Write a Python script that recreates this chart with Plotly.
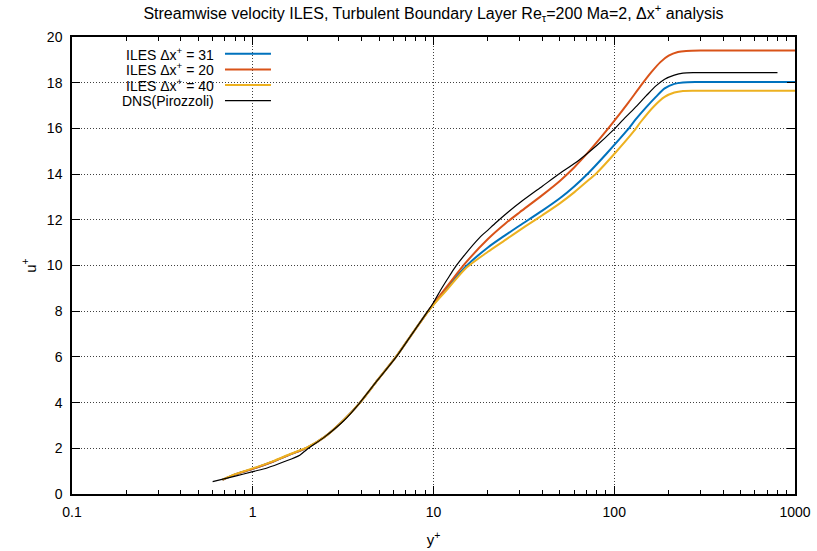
import plotly.graph_objects as go

# ---------------- data ----------------
series_names = ["ILES Δx<sup>+</sup> = 31", "ILES Δx<sup>+</sup> = 20",
                "ILES Δx<sup>+</sup> = 40", "DNS(Pirozzoli)"]
series_colors = ["#0072BD", "#D95319", "#EDB120", "#000000"]

blue_x = [0.68, 0.8, 1.0, 1.3, 1.6, 2.0, 2.5, 3.2, 3.9, 4.9, 6.2, 7.6, 9.3, 10, 12, 15, 20, 25, 30,
          40, 50, 60, 72, 90, 118, 131, 150, 170, 190, 215, 240, 280, 400, 1000]
blue_u = [0.62, 0.86, 1.1, 1.42, 1.72, 2.03, 2.5, 3.25, 3.98, 4.98, 6.0, 7.0, 7.98, 8.3, 9.07,
          9.94, 10.79, 11.33, 11.75, 12.4, 12.94, 13.46, 14.05, 14.87, 15.92, 16.38, 16.92,
          17.38, 17.75, 17.95, 18.01, 18.03, 18.03, 18.03]

orange_x = [0.68, 0.8, 1.0, 1.3, 1.6, 2.0, 2.5, 3.2, 3.9, 4.9, 6.2, 7.6, 9.3, 10, 12, 15, 20, 25, 30,
            40, 50, 60, 70, 85, 100, 120, 140, 160, 180, 200, 225, 250, 300, 400, 1000]
orange_u = [0.62, 0.86, 1.1, 1.42, 1.72, 2.03, 2.5, 3.25, 3.98, 4.98, 6.0, 7.0, 7.98, 8.32, 9.13,
            10.1, 11.16, 11.84, 12.33, 13.08, 13.7, 14.29, 14.86, 15.64, 16.33, 17.14, 17.86,
            18.45, 18.9, 19.18, 19.34, 19.39, 19.41, 19.41, 19.41]

yellow_x = [0.68, 0.8, 1.0, 1.3, 1.6, 2.0, 2.5, 3.2, 3.9, 4.9, 6.2, 7.6, 9.3, 10, 12, 15, 20, 25, 30,
            35, 40, 50, 60, 70, 80, 100, 129, 140, 165, 190, 215, 240, 280, 400, 1000]
yellow_u = [0.63, 0.87, 1.12, 1.44, 1.74, 2.04, 2.5, 3.25, 3.98, 4.98, 6.0, 7.0, 7.97, 8.28, 8.98,
            9.86, 10.6, 11.12, 11.55, 11.9, 12.2, 12.72, 13.2, 13.65, 14.05, 14.88, 15.9, 16.28,
            16.95, 17.38, 17.57, 17.64, 17.65, 17.65, 17.65]

black_x = [0.6, 0.8, 1.0, 1.2, 1.5, 1.82, 2.0, 2.5, 3.22, 3.9, 4.9, 6.22, 7.6, 9.3, 10, 11, 12, 13.1,
           15, 18, 20, 22.2, 26, 31, 40, 49, 64, 80, 98, 111, 130, 150, 170, 190, 215, 240, 280,
           500, 800]
black_u = [0.54, 0.78, 0.98, 1.14, 1.42, 1.7, 1.96, 2.5, 3.24, 3.98, 4.98, 6.0, 7.0, 8.0, 8.38, 8.95,
           9.43, 9.9, 10.5, 11.22, 11.55, 11.88, 12.35, 12.83, 13.47, 13.98, 14.62, 15.25, 15.9,
           16.35, 16.9, 17.42, 17.86, 18.15, 18.33, 18.42, 18.44, 18.44, 18.44]

x_tick_vals = [0.1, 1, 10, 100, 1000]
x_tick_text = ["0.1", "1", "10", "100", "1000"]
y_tick_vals = [0, 2, 4, 6, 8, 10, 12, 14, 16, 18, 20]

title_text = ("Streamwise velocity ILES, Turbulent Boundary Layer Re<sub>τ</sub>=200 Ma=2, "
              "Δx<sup>+</sup> analysis")

# ---------------- figure ----------------
FONT = "Liberation Sans, Arial, sans-serif"
GRID = "#404040"
GRID_DASH = "1px,2px"
fig = go.Figure()

xs = [blue_x, orange_x, yellow_x, black_x]
us = [blue_u, orange_u, yellow_u, black_u]
widths = [2, 2, 2, 1.2]
for name, col, x, u, w in zip(series_names, series_colors, xs, us, widths):
    fig.add_trace(go.Scatter(x=x, y=u, mode="lines", name=name,
                             line=dict(color=col, width=w, shape="spline", smoothing=0.7),
                             showlegend=False))

minor_vals = [m * 10 ** e for e in range(-1, 3) for m in range(2, 10)]

fig.update_xaxes(type="log", range=[-1, 3], tickmode="array", tickvals=x_tick_vals,
                 ticktext=x_tick_text, ticks="inside", ticklen=8, tickcolor="black",
                 ticklabelstandoff=4, automargin=False,
                 showline=True, linecolor="black", linewidth=1.5, mirror="ticks",
                 showgrid=True, gridcolor=GRID, griddash=GRID_DASH, gridwidth=1,
                 minor=dict(tickmode="array", tickvals=minor_vals, ticks="inside",
                            ticklen=4, tickcolor="black", showgrid=False),
                 tickfont=dict(family=FONT, size=14, color="black"),
                 title=dict(text="y<sup>+</sup>", font=dict(family=FONT, size=15, color="black"),
                            standoff=16))
fig.update_yaxes(range=[0, 20], tickmode="array", tickvals=y_tick_vals,
                 ticks="inside", ticklen=8, tickcolor="black",
                 ticklabelstandoff=5, automargin=False,
                 showline=True, linecolor="black", linewidth=1.5, mirror="ticks",
                 showgrid=True, gridcolor=GRID, griddash=GRID_DASH, gridwidth=1,
                 zeroline=False,
                 tickfont=dict(family=FONT, size=14, color="black"),
                 title=dict(text="u<sup>+</sup>", font=dict(family=FONT, size=15, color="black"),
                            standoff=7))

# legend (gnuplot style: right-aligned text, sample line on right)
fig.add_shape(type="rect", xref="paper", yref="paper", x0=0.011, x1=0.285, y0=0.847, y1=0.985,
              fillcolor="white", line=dict(width=0), layer="between")
row_y = [0.9632, 0.9289, 0.8950, 0.8609]
for name, col, w, ry in zip(series_names, series_colors, widths, row_y):
    fig.add_annotation(xref="paper", yref="paper", x=0.199, y=ry, text=name, showarrow=False,
                       xanchor="right", yanchor="middle",
                       font=dict(family=FONT, size=14, color="black"))
    fig.add_shape(type="line", xref="paper", yref="paper", x0=0.2116, x1=0.2752, y0=ry, y1=ry,
                  line=dict(color=col, width=w))

fig.update_layout(
    width=817, height=551,
    margin=dict(l=72, r=22, t=37, b=57, autoexpand=False),
    paper_bgcolor="white", plot_bgcolor="white",
    title=dict(text=title_text, x=0.5, xref="paper", y=0.976, yref="container",
               xanchor="center", yanchor="middle",
               font=dict(family=FONT, size=16, color="black")),
    showlegend=False,
)

fig.write_html("out.html")
